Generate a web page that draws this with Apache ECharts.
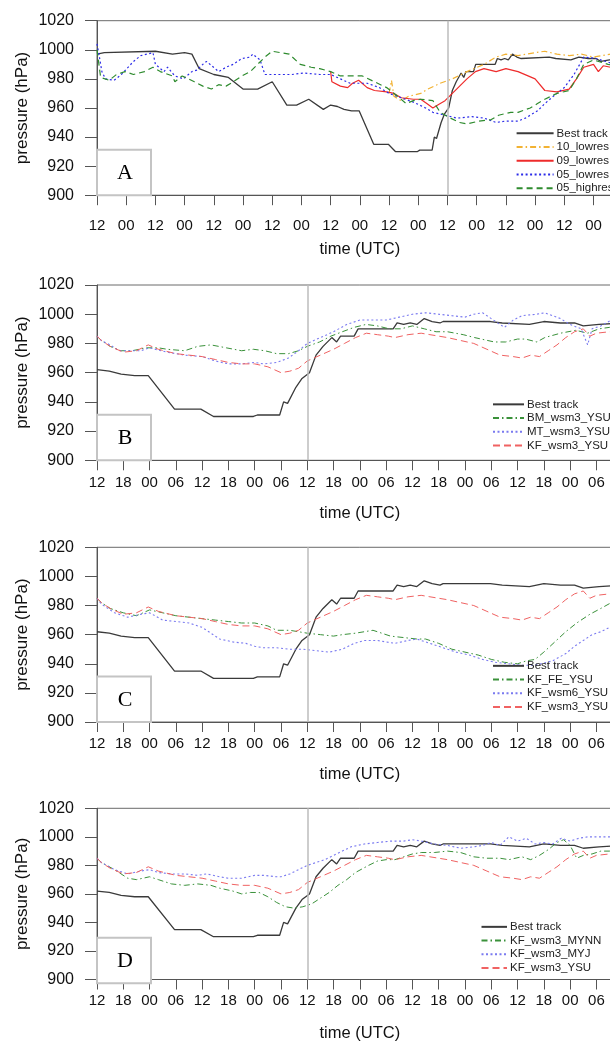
<!DOCTYPE html>
<html>
<head>
<meta charset="utf-8">
<script src="https://cdn.jsdelivr.net/npm/echarts@6/dist/echarts.min.js"></script>
<style>
html,body{margin:0;padding:0;width:610px;height:1043px;overflow:hidden;background:#fff;}
#c{width:640px;height:1043px;}
</style>
</head>
<body>
<div id="c"></div>
<script>
// ---------- DATA ----------
// Panel A time axis: hours since 12 UTC of first day (12-h ticks). Panels B-D start 96 h later (6-h ticks).
const yTicks = [900, 920, 940, 960, 980, 1000, 1020];

// Best track (hours on panel A axis)
const bestHours = [0,3,24,31,36,39,42,48,54,60,66,72,78,82,87,93,96,98.8,101.5,104.6,107.7,113.7,119.7,122.6,131.7,132.6,137.7,138.6,139.5,141.4,142.8,144.5,146,147.6,149.6,150.7,151.6,154.7,155.6,163.6,164.5,166,167.5,169,170.7,172.5,174.3,175,185.8,188.5,194.7,198,201.8,205,207,210.6,216];
const bestP     = [997,998,999,997,998,997,987,983,981,973,973,978,962,962,966,959,962,961,959,958,958,935,935,930,930,931,931,940,939,950,956,960,972,978,984,981,985,985,990,990,994,993,994,993,997,995,994,995,995,994,993,995,994,994,992,993,994];

// Panel A experiments
const a10Hours = [120,121,122,125,128,133,136,141,146,152,159,164,168,173,180,184,189,194,199,204,211,216];
const a10P     = [970,979,968,965,968,970,973,977,980,985,990,995,997,996,998,999,997,996,997,995,997,997];

const a09Hours = [96,96.5,100,103,105,107.5,111,114,119,122,125,130,133,135.5,138,140,143,146,149,152,155.5,159,164,168,173,180,184,189,194,197,200,204,206,208,211,216];
const a09P     = [985,978,975,974,977,979,974,972,971,970,967,966,966,963,960,962,965,970,975,980,985,987,985,987,985,980,972,971,973,980,988,990,985,989,988,990];

const a05lHours = [0,1,2,3.5,7,10,15,18,23,24,27.5,29,32,35.5,39,41,43.5,45,50,53,56,59.5,63,64,67,69,72,80,85,91.5,96,100,104,111,116,120,125,130,135,138,143,148,154,159,164,168,173,176,181,184,187.5,192,196,199,200,205,211,216];
const a05lP     = [1004,995,985,980,979,983,992,996,998,990,985,988,982,980,985,986,990,992,985,988,990,994,995,997,993,983,983,983,984,983,983,980,977,977,974,970,967,964,960,957,955,953,954,953,950,951,951,953,958,963,968,974,983,992,995,994,991,990];

const a05hHours = [0,1.5,5,8,11.5,15,19.5,23,26,31,32,35,40,43.5,47,50,53,56,59.5,63,66,69,72,75.5,79,83.5,88,91.5,96,100,104,109,114,119,123.5,127,130,133,138,141,144,149,152,157,162,165,170,173,178,181,184,189,194,197,200,204,210,216];
const a05hP     = [1000,981,979,983,985,983,985,988,985,982,978,982,978,975,973,976,975,978,982,985,990,995,999,998,997,990,988,987,985,982,982,982,978,974,968,963,965,966,965,957,954,950,949,951,952,955,957,957,960,963,966,970,972,980,990,993,990,988];

// Panels B-D (hours since start of panel B axis)
const kfYsuHours = [0,1,3,6,9,11.7,14,18,21,24,27,30,33,36,39,42,44,46,48,51,54,56.5,59,61.5,64,66.5,68,71,74,76,80,83,86,89,92,95,97,99,101,103,105,107,109,111,112.5,114,117,120];
const kfYsuP     = [985,982,978,974,975,979,976,973,972,971,969,967,966,966,964,960,961,963,968,972,976,980,984,987,986,985,984,986,987,986,984,982,980,976,972,971,970,972,971,975,979,984,988,990,985,987,988,989];

const bmHours = [0,1,3,5.5,8,11.3,14,16,20,23,26,29.5,33,35.7,38.3,41,43.7,46,48,50.8,53.4,56,58.7,61.4,64,66.7,69.4,72,74.7,77.4,80,83.6,86.2,90.7,93.3,96,97.8,100.4,102.2,105.8,109.3,112,114.6,117,120];
const bmP     = [985,982,978,975,975,977,977,976,975,978,979,977,975,976,975,973,973,975,978,981,985,988,991,993,992,990,990,992,990,988,988,986,984,981,981,983,983,981,984,987,989,987,990,991,991];

const mtHours = [0,1,3,5,8,10,12,16,20,24,27,30,33,36,38,41,43.7,46,48,51,54,57,60,63,66,69,72,75,78,81,84,86,88,90,92,93,95,97,100.4,102.2,104,105.8,108,110.5,112,113,115,117.4,120];
const mtP     = [985,982,979,975,975,975,977,974,972,971,968,966,966,967,966,967,970,975,980,984,988,993,996,996,996,998,1000,1001,1000,999,998,1000,1001,997,993,991,996,999,1000,1001,999,997,993,990,979,990,992,996,997];

const feHours = [0,1,3,6,9,12,15,18,21,24,27,30,33,36,39,41,44,46,48,51,54,56,59,61,63,65,67,70,73,75,78,81,84,87,90,93,96,98,100,102,104.5,107,109.5,112.5,115,118,120];
const feP     = [985,982,978,975,973,977,975,973,972,971,970,969,968,968,966,963,963,962,961,960,959,960,961,962,963,961,959,958,957,957,954,950,948,946,943,941,940,942,943,948,955,962,968,974,978,983,986];

const w6Hours = [0,1,4,7,10,12,15,18,21,24,26,28,31,34,36,38,41,44,47,50,53,56,58.7,61,64,66,68,71,73,76,79,82,85,88,91,94,97,100,104,107,109,111.5,113,115,117,120];
const w6P     = [985,981,975,972,974,975,970,969,968,965,961,957,955,954,952,951,951,950,950,949,948,950,954,956,956,955,954,956,957,954,951,948,946,943,941,940,939,939,942,947,952,957,960,962,965,969];

const mynnHours = [0,1,4,7,9,12,14,17,20,23,26,28,31,33,35,37,39,41,43,45,47,49,51,53,55,57,59,62,64,66,68,70,72,74,77,80,83,86,89,92,94,97,99,101,103,105,106.5,108,109.5,111,113,115,117,120];
const mynnP     = [985,982,977,971,970,972,970,967,966,967,966,964,962,960,961,961,958,954,951,950,951,953,957,961,966,970,975,980,983,984,984,986,988,989,989,990,989,986,985,985,984,986,984,987,991,996,998,994,985,987,988,990,990,989];

const myjHours = [0,1,4,7,10,12,14,17,20,23,25,28,30,33,36,38,41,42,44,46,48,50,52,54,56,58,61,64,67,70,72,74,77,80,83,86,88,90,92,94,96,98,100,102,104,106,108,110,112,115,118,120];
const myjP     = [985,982,977,974,976,977,975,974,974,973,974,972,971,971,973,973,972,972,974,977,980,982,984,987,990,993,995,996,997,997,998,997,995,994,992,993,994,996,994,1000,997,999,995,996,995,999,997,999,1000,1000,1000,1000];

const panelLetters = ['A', 'B', 'C', 'D'];
const markLines = [144, 48, 48, 48];   // vertical reference line (hours)
const panelBOffset = 96;

// ---------- helpers ----------
const pairs = (hs, ps, off) => hs.map((h, i) => [h - (off || 0), ps[i]]).filter(d => d[0] >= 0);
const pad2 = n => (n < 10 ? '0' : '') + n;
const SANS = '"Liberation Sans", Arial, Helvetica, sans-serif';

const gridTops = [20.7, 285, 547.3, 808.3];
const gridHeights = [174.5, 175.3, 174.7, 175];
const labelMargins = [23, 15, 14, 14];
const nameGaps = [46, 44.5, 44, 45.5];
const GL = 97, GW = 525.7;

const grids = [], xAxes = [], yAxes = [], graphics = [];
for (let i = 0; i < 4; i++) {
  grids.push({left: GL, top: gridTops[i], width: GW, height: gridHeights[i], show: true, borderColor: '#6a6a6a', borderWidth: 1, backgroundColor: 'transparent'});
  const step = i === 0 ? 12 : 6;
  xAxes.push({
    gridIndex: i, type: 'value', min: 0, max: i === 0 ? 216 : 120, interval: step,
    name: 'time (UTC)', nameLocation: 'middle', nameGap: nameGaps[i], nameMoveOverlap: false,
    nameTextStyle: {fontSize: 16.5, color: '#111', fontFamily: SANS},
    axisLine: {show: true, lineStyle: {color: '#555', width: 1}},
    axisTick: {show: true, inside: false, length: 10, lineStyle: {color: '#555', width: 1}},
    axisLabel: {show: true, margin: labelMargins[i], fontSize: 15, color: '#111', fontFamily: SANS,
      showMinLabel: true, showMaxLabel: false,
      formatter: v => pad2((12 + v) % 24)},
    splitLine: {show: false}
  });
  yAxes.push({
    gridIndex: i, type: 'value', min: yTicks[0], max: yTicks[yTicks.length - 1], interval: 20,
    name: 'pressure (hPa)', nameLocation: 'middle', nameGap: 66, nameRotate: 90, nameMoveOverlap: false,
    nameTextStyle: {fontSize: 17, color: '#111', fontFamily: SANS},
    axisLine: {show: true, lineStyle: {color: '#555', width: 1}},
    axisTick: {show: true, inside: false, length: 12, lineStyle: {color: '#555', width: 1}},
    axisLabel: {margin: 23, fontSize: 16, color: '#111', fontFamily: SANS, formatter: v => String(v)},
    splitLine: {show: false}
  });
  const bx = 97, bh = 45.5, by = gridTops[i] + gridHeights[i] - bh;
  graphics.push({type: 'rect', z: 50, shape: {x: bx, y: by, width: 54, height: bh},
    style: {fill: '#fff', stroke: '#c4c4c4', lineWidth: 2}});
  graphics.push({type: 'text', z: 51, style: {text: panelLetters[i], x: bx + 28, y: by + bh / 2 + 1,
    font: '22px "Liberation Serif", "Times New Roman", serif', fill: '#000',
    align: 'center', verticalAlign: 'middle', textAlign: 'center', textVerticalAlign: 'middle'}});
}

const BLACK = '#3a3a3a';
function line(name, gi, data, color, type, width, withMark) {
  const s = {
    name, type: 'line', xAxisIndex: gi, yAxisIndex: gi, data, symbol: 'none', showSymbol: false,
    animation: false, z: 3,
    lineStyle: {color, type, width}, itemStyle: {color, opacity: 0}
  };
  if (withMark) {
    s.markLine = {silent: true, symbol: 'none', label: {show: false}, animation: false,
      lineStyle: {color: '#bdbdbd', type: 'solid', width: 1.5, opacity: 1},
      data: [{xAxis: markLines[gi]}]};
  }
  return s;
}

const DASHDOT = [6, 3, 1.5, 3];
const series = [
  // A
  line('Best track', 0, pairs(bestHours, bestP), BLACK, 'solid', 1.3, true),
  line('10_lowres', 0, pairs(a10Hours, a10P), '#f2b233', DASHDOT, 1.2),
  line('09_lowres', 0, pairs(a09Hours, a09P), '#ee2b2b', 'solid', 1.2),
  line('05_lowres', 0, pairs(a05lHours, a05lP), '#2b2be8', [2, 2.5], 1.2),
  line('05_highres', 0, pairs(a05hHours, a05hP), '#2e8b2e', [6, 4], 1.2),
  // B
  line('Best track', 1, pairs(bestHours, bestP, panelBOffset), BLACK, 'solid', 1.3, true),
  line('BM_wsm3_YSU', 1, pairs(bmHours, bmP), '#3a913a', DASHDOT, 1),
  line('MT_wsm3_YSU', 1, pairs(mtHours, mtP), '#7a7af0', [2, 2.5], 1.1),
  line('KF_wsm3_YSU', 1, pairs(kfYsuHours, kfYsuP), '#f06262', [7, 4], 1),
  // C
  line('Best track', 2, pairs(bestHours, bestP, panelBOffset), BLACK, 'solid', 1.3, true),
  line('KF_FE_YSU', 2, pairs(feHours, feP), '#3a913a', DASHDOT, 1),
  line('KF_wsm6_YSU', 2, pairs(w6Hours, w6P), '#7a7af0', [2, 2.5], 1.1),
  line('KF_wsm3_YSU', 2, pairs(kfYsuHours, kfYsuP), '#f06262', [7, 4], 1),
  // D
  line('Best track', 3, pairs(bestHours, bestP, panelBOffset), BLACK, 'solid', 1.3, true),
  line('KF_wsm3_MYNN', 3, pairs(mynnHours, mynnP), '#3a913a', DASHDOT, 1),
  line('KF_wsm3_MYJ', 3, pairs(myjHours, myjP), '#7a7af0', [2, 2.5], 1.1),
  line('KF_wsm3_YSU', 3, pairs(kfYsuHours, kfYsuP), '#f06262', [7, 4], 1)
];

function legend(names, left, top, w) {
  return {data: names, left, top, orient: 'vertical', padding: 0, itemWidth: w, itemHeight: 10, itemGap: 0,
    selectedMode: false, itemStyle: {opacity: 0},
    textStyle: {fontSize: 11.5, lineHeight: 13.7, color: '#222', fontFamily: SANS, padding: [0, 0, 0, -2]}};
}

const option = {
  animation: false,
  backgroundColor: '#fff',
  grid: grids, xAxis: xAxes, yAxis: yAxes, series,
  legend: [
    legend(['Best track', '10_lowres', '09_lowres', '05_lowres', '05_highres'], 515.6, 126.5, 37),
    legend(['Best track', 'BM_wsm3_YSU', 'MT_wsm3_YSU', 'KF_wsm3_YSU'], 492, 397.5, 31),
    legend(['Best track', 'KF_FE_YSU', 'KF_wsm6_YSU', 'KF_wsm3_YSU'], 492, 659, 31),
    legend(['Best track', 'KF_wsm3_MYNN', 'KF_wsm3_MYJ', 'KF_wsm3_YSU'], 480.5, 920, 25.5)
  ],
  graphic: graphics
};

const chart = echarts.init(document.getElementById('c'), null, {renderer: 'canvas'});
chart.setOption(option);
</script>
</body>
</html>
